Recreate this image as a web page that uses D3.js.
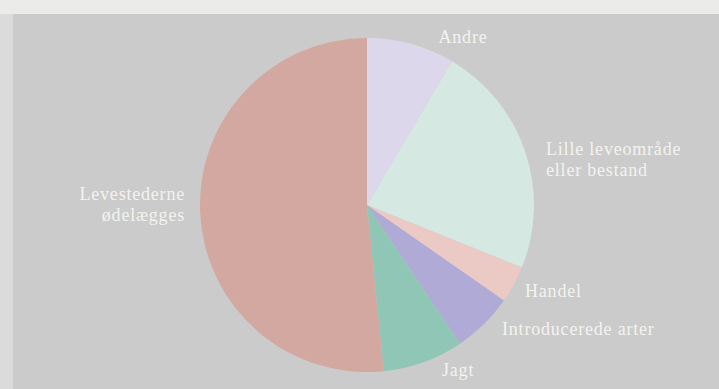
<!DOCTYPE html>
<html>
<head>
<meta charset="utf-8">
<script src="https://cdn.jsdelivr.net/npm/d3@7"></script>
<style>
html,body{margin:0;padding:0;background:#e9e9e8;}
svg{display:block;}
</style>
</head>
<body>
<svg id="chart" width="719" height="389"></svg>
<script>
const categories = ["Andre", "Lille leveområde eller bestand", "Handel", "Introducerede arter", "Jagt", "Levestederne ødelægges"];
const values = [8.5, 22.6, 3.6, 5.9, 7.8, 51.6];
const colors = ["#dcd7ea", "#d5e8e1", "#ebc9c5", "#afabd6", "#8fc6b5", "#d3a8a0"];
const labelLines = [["Andre"], ["Lille leveområde", "eller bestand"], ["Handel"], ["Introducerede arter"], ["Jagt"], ["Levestederne", "ødelægges"]];

const W = 719, H = 389;
const svg = d3.select("#chart");

// page / scan background
svg.append("rect").attr("x", 0).attr("y", 0).attr("width", W).attr("height", H).attr("fill", "#ebebea");
svg.append("rect").attr("x", 0).attr("y", 14).attr("width", 13).attr("height", H - 14).attr("fill", "#dadbda");
svg.append("rect").attr("x", 13).attr("y", 14).attr("width", W - 13).attr("height", H - 14).attr("fill", "#cacbca");

const cx = 367, cy = 205, r = 167;
const pie = d3.pie().sort(null).value(d => d.v).startAngle(0).endAngle(2 * Math.PI);
const arcs = pie(categories.map((c, i) => ({c, v: values[i], i})));
const arc = d3.arc().innerRadius(0).outerRadius(r);

const g = svg.append("g").attr("transform", `translate(${cx},${cy})`);
g.selectAll("path").data(arcs).join("path")
  .attr("d", arc)
  .attr("fill", d => colors[d.data.i]);

// label placement (anchor point + alignment)
const labelPos = [
  {x: 463, y: 43, anchor: "middle"},
  {x: 546, y: 155, anchor: "start"},
  {x: 525, y: 297, anchor: "start"},
  {x: 502, y: 335, anchor: "start"},
  {x: 442, y: 376, anchor: "start"},
  {x: 185, y: 200, anchor: "end"}
];
const lineH = 21;
labelLines.forEach((lines, i) => {
  const p = labelPos[i];
  const t = svg.append("text")
    .attr("x", p.x).attr("y", p.y)
    .attr("text-anchor", p.anchor)
    .attr("fill", "#f4f3f0")
    .attr("font-family", "'Liberation Serif', 'DejaVu Serif', serif")
    .attr("font-size", 18)
    .attr("letter-spacing", 0.8);
  lines.forEach((ln, j) => {
    t.append("tspan").attr("x", p.x).attr("y", p.y + j * lineH).text(ln);
  });
});
</script>
</body>
</html>
